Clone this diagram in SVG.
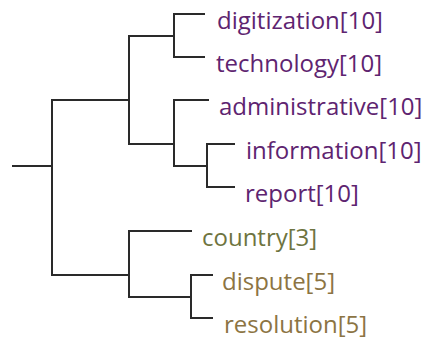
<svg xmlns="http://www.w3.org/2000/svg" width="423" height="340" viewBox="0 0 423 340">
<style>
.e{fill:none;stroke:#2a2a2a;stroke-width:2;stroke-linecap:square}
text{font-family:"Open Sans","Noto Sans",sans-serif;font-size:24px}
.p{fill:#5e2470}
.c{fill:#6e7440}
.d{fill:#8c7443}
</style>
<rect width="423" height="340" fill="#ffffff"/>
<g id="connectors" class="e">
<path d="M13,166H52M52,100V275"/>
<path d="M52,100H129M129,36V144"/>
<path d="M129,36H174M174,14V57M174,14H204M174,57H204"/>
<path d="M129,144H174M174,100V166M174,100H208M174,166H207M207,144V187M207,144H234M207,187H234"/>
<path d="M52,275H129M129,231V297M129,231H191"/>
<path d="M129,297H191M191,275V318M191,275H212M191,318H212"/>
</g>
<g id="digitization"><text class="p" x="217" y="29">digitization[10]</text></g>
<g id="technology"><text class="p" x="216" y="72">technology[10]</text></g>
<g id="administrative"><text class="p" x="219" y="115">administrative[10]</text></g>
<g id="information"><text class="p" x="246" y="159">information[10]</text></g>
<g id="report"><text class="p" x="245" y="202">report[10]</text></g>
<g id="country"><text class="c" x="202" y="246">country[3]</text></g>
<g id="dispute"><text class="d" x="222" y="290">dispute[5]</text></g>
<g id="resolution"><text class="d" x="224" y="333">resolution[5]</text></g>
</svg>
